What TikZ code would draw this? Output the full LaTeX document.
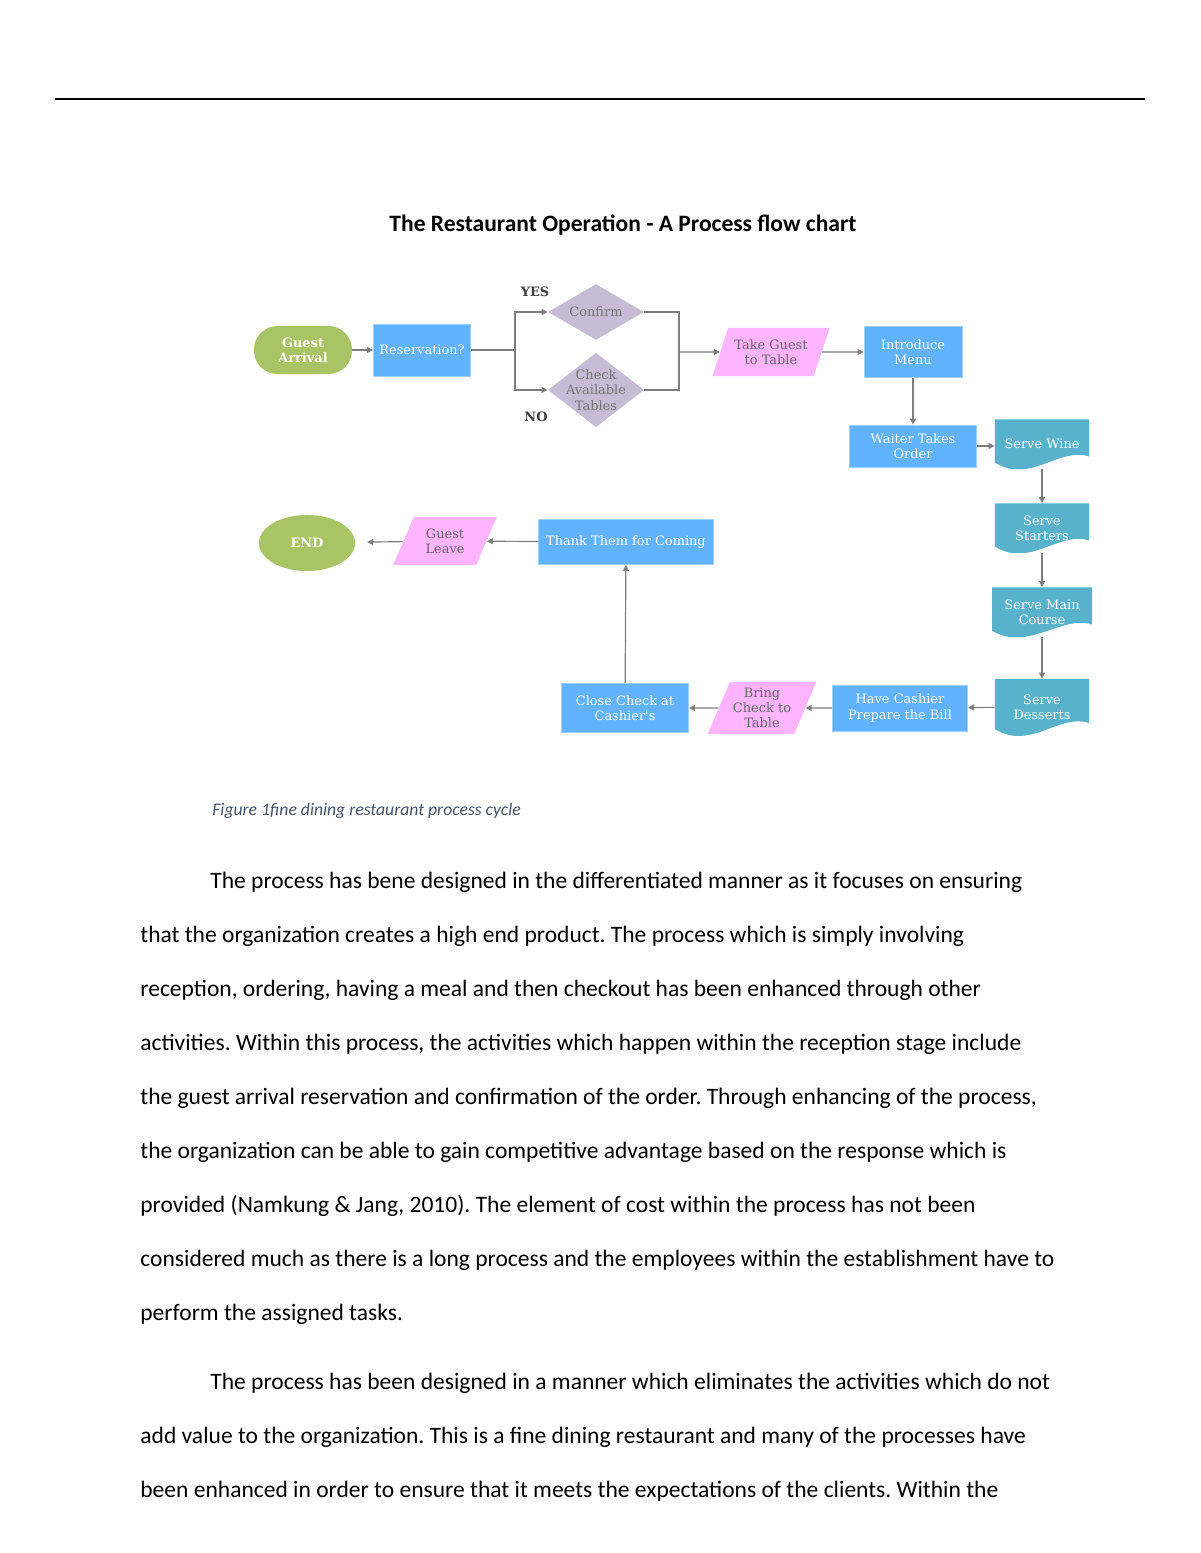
\documentclass[tikz,border=0pt]{standalone}
\usepackage{fontspec}
\setmainfont{Carlito}
\newfontfamily\chartfont{DejaVu Serif}
\usetikzlibrary{shapes.geometric,arrows.meta,calc}
\frenchspacing
\definecolor{leafgreen}{RGB}{168,196,100}
\definecolor{skyblue}{RGB}{97,178,255}
\definecolor{docteal}{RGB}{88,178,204}
\definecolor{candypink}{RGB}{255,180,255}
\definecolor{lavender}{RGB}{198,188,214}
\definecolor{linegray}{RGB}{125,125,125}
\definecolor{captionblue}{RGB}{68,84,106}
\tikzset{
    chart/.style = {font=\chartfont\fontsize{6.6}{7.8}\selectfont, align=center, inner sep=1pt},
    flowbox/.style = {chart, rectangle, fill=skyblue, draw=skyblue!60!white, thin, text=white},
    slanted/.style = {chart, trapezium, trapezium left angle=64, trapezium right angle=116, trapezium stretches=true, fill=candypink, text=black!60},
    decision/.style = {diamond, fill=lavender, inner sep=0pt},
    decision-text/.style = {chart, text=black!55},
    startstop/.style = {chart, rectangle, rounded corners=12pt, fill=leafgreen, text=white, font=\chartfont\bfseries\fontsize{6.6}{7.8}\selectfont},
    docbox/.style = {chart, rectangle, text=white,
        path picture={\fill[docteal] (path picture bounding box.north west) -- (path picture bounding box.north east)
            -- ($(path picture bounding box.south east)+(0,-12)$)
            .. controls ($(path picture bounding box.south east)+(-30,-22)$) and ($(path picture bounding box.south west)+(35,16)$)
            .. ($(path picture bounding box.south west)+(0,-6)$) -- cycle;}},
    tag/.style = {chart, text=black!75, font=\chartfont\bfseries\fontsize{6.6}{7.8}\selectfont},
    flow/.style = {draw=linegray, line width=0.6pt, -{Triangle[length=3pt,width=3pt]}},
    link/.style = {draw=linegray, line width=0.6pt},
    bodyline/.style = {anchor=base west, inner sep=0pt, font=\fontsize{12}{14}\selectfont},
}
\begin{document}
\begin{tikzpicture}[x=0.51pt, y=-0.51pt]
\useasboundingbox (0,0) rectangle (1200,1553);

% header rule and title
\draw[line width=0.75pt] (55,99) -- (1145,99);
\node[font=\bfseries\fontsize{12}{14}\selectfont] (title) at (623,225) {The Restaurant Operation - A Process flow chart};

% reception
\node[startstop, minimum width=50pt, minimum height=24.5pt] (guest) at (303,350) {Guest\\Arrival};
\node[flowbox, minimum width=49.5pt, minimum height=26.5pt] (res) at (422,350) {Reservation?};
\node[decision, minimum width=49pt, minimum height=28.5pt,
      label={[decision-text]center:Confirm}] (confirm) at (596,312) {};
\node[decision, minimum width=49pt, minimum height=38pt,
      label={[decision-text]center:Check\\Available\\Tables}] (check) at (596,390) {};
\node[tag] (yes) at (535,292) {YES};
\node[tag] (no) at (536,417) {NO};
\coordinate (fork) at (515,350);
\coordinate (join) at (679,352);

% service
\node[slanted, minimum width=60pt, minimum height=24.5pt] (take) at (771,352) {Take Guest\\to Table};
\node[flowbox, minimum width=50pt, minimum height=26pt] (menu) at (913,352) {Introduce\\Menu};
\node[flowbox, minimum width=65pt, minimum height=21.5pt] (order) at (913,446) {Waiter Takes\\Order};
\node[docbox, minimum width=48pt, minimum height=25pt] (wine) at (1042,444) {Serve Wine};
\node[docbox, minimum width=48pt, minimum height=25pt] (starters) at (1042,528) {Serve\\Starters};
\node[docbox, minimum width=51pt, minimum height=25pt] (main) at (1042,612) {Serve Main\\Course};
\node[docbox, minimum width=48pt, minimum height=28.6pt] (desserts) at (1042,707) {Serve\\Desserts};

% checkout
\node[flowbox, minimum width=69pt, minimum height=23.5pt] (bill) at (900,708) {Have Cashier\\Prepare the Bill};
\node[slanted, minimum width=55.6pt, minimum height=26.5pt] (bring) at (762,708) {Bring\\Check to\\Table};
\node[flowbox, minimum width=65pt, minimum height=25pt] (close) at (625,708) {Close Check at\\Cashier's};
\node[flowbox, minimum width=89pt, minimum height=23pt] (thank) at (626,542) {Thank Them for Coming};
\node[slanted, minimum width=53pt, minimum height=24.5pt] (leave) at (445,541) {Guest\\Leave};
\node[startstop, ellipse, minimum width=49pt, minimum height=28.6pt] (finish) at (307,543) {END};

% connectors
\draw[flow] (guest) -- (res);
\draw[link] (res) -- (fork);
\draw[flow] (fork) |- (confirm);
\draw[flow] (fork) |- (check);
\draw[link] (confirm.east) -| (join);
\draw[link] (check.east) -| (join);
\draw[flow] (join) -- (take);
\draw[flow] (take) -- (menu);
\draw[flow] (menu) -- (order);
\draw[flow] (order.east) -- (order.east -| wine.west);
\draw[flow] (wine) -- (starters);
\draw[flow] (starters) -- (main);
\draw[flow] (main) -- (desserts);
\draw[flow] (desserts) -- (bill);
\draw[flow] (bill) -- (bring);
\draw[flow] (bring) -- (close);
\draw[flow] (close) -- (thank);
\draw[flow] (thank) -- (leave);
\draw[flow, shorten >=6pt] (leave) -- (finish);

% caption and body text
\node[anchor=west, inner sep=0pt, text=captionblue, font=\itshape\fontsize{9}{11}\selectfont] (caption) at (212,811) {Figure 1fine dining restaurant process cycle};
\node[bodyline] (p1) at (210,888) {The process has bene designed in the differentiated manner as it focuses on ensuring};
\node[bodyline] (p2) at (140,942) {that the organization creates a high end product. The process which is simply involving};
\node[bodyline] (p3) at (140,996) {reception, ordering, having a meal and then checkout has been enhanced through other};
\node[bodyline] (p4) at (140,1050) {activities. Within this process, the activities which happen within the reception stage include};
\node[bodyline] (p5) at (140,1104) {the guest arrival reservation and confirmation of the order. Through enhancing of the process,};
\node[bodyline] (p6) at (140,1158) {the organization can be able to gain competitive advantage based on the response which is};
\node[bodyline] (p7) at (140,1212) {provided (Namkung \& Jang, 2010). The element of cost within the process has not been};
\node[bodyline] (p8) at (140,1266) {considered much as there is a long process and the employees within the establishment have to};
\node[bodyline] (p9) at (140,1320) {perform the assigned tasks.};
\node[bodyline] (q1) at (210,1389) {The process has been designed in a manner which eliminates the activities which do not};
\node[bodyline] (q2) at (140,1443) {add value to the organization. This is a fine dining restaurant and many of the processes have};
\node[bodyline] (q3) at (140,1497) {been enhanced in order to ensure that it meets the expectations of the clients. Within the};
\end{tikzpicture}
\end{document}
